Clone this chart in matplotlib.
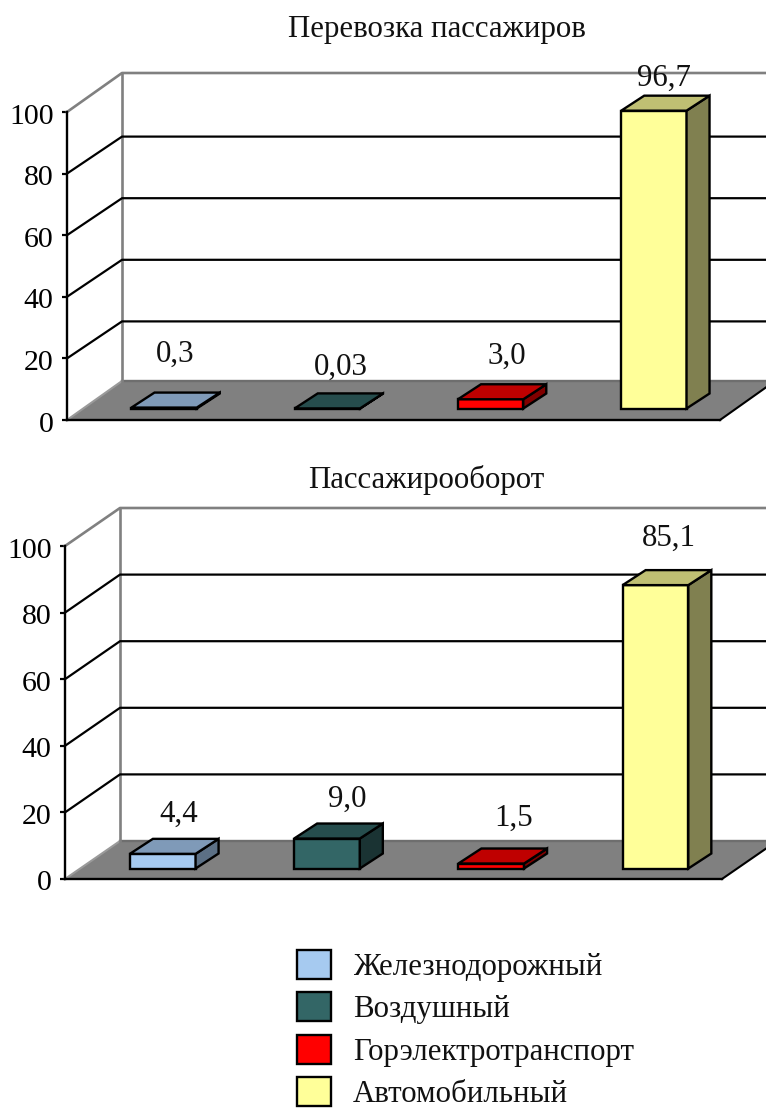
import matplotlib
matplotlib.use("Agg")
import matplotlib.pyplot as plt
from matplotlib.patches import Patch
from matplotlib.transforms import ScaledTranslation

W, H = 766, 1110
plt.rcParams['font.family'] = ['Liberation Serif', 'DejaVu Serif']

categories = ['Железнодорожный', 'Воздушный', 'Горэлектротранспорт', 'Автомобильный']
passengers = [0.3, 0.03, 3.0, 96.7]
passenger_km = [4.4, 9.0, 1.5, 85.1]
labels_passengers = ['0,3', '0,03', '3,0', '96,7']
labels_passenger_km = ['4,4', '9,0', '1,5', '85,1']
yticks = [0, 20, 40, 60, 80, 100]

front_colors = ['#A6CAF0', '#336666', '#FF0000', '#FFFF99']
legend_colors = ['#A6CAF0', '#336666', '#FF0000', '#FFFF99']
top_colors = ['#7F9AB8', '#264D4D', '#BF0000', '#BFBF73']
side_colors = ['#5C7085', '#1A3333', '#800000', '#808050']

FS = 22.2
TICK_FS = 21.5
EDGE = 1.7
fig = plt.figure(figsize=(W / 100, H / 100), dpi=100, facecolor='white')


def panel(title, title_xy, values, labels, left, right, y0, y100, floor_d, grid_dy, bar_d, bar_lift,
          label_gap, label_dx):
    ax = fig.add_axes([left / W, 1 - y0 / H, (right - left) / W, (y0 - y100) / H])
    ax.set_xlim(0, 4)
    ax.set_ylim(0, 100)
    ax.patch.set_visible(False)
    sx = (right - left) / 4
    sy = (y0 - y100) / 100
    fdx, fdy = floor_d[0] / sx, floor_d[1] / sy
    gdy = grid_dy / sy
    bdx, bdy = bar_d[0] / sx, bar_d[1] / sy
    lift = bar_lift / sy
    xr = (W - left) / sx  # right figure edge in data units

    # floor
    ax.fill([0, 4, 4 + fdx, xr + 1, 0 + fdx], [0, 0, fdy, fdy, fdy], color='#808080', zorder=1, clip_on=False, lw=0)
    ax.plot([4, 4 + fdx], [0, fdy], color='black', lw=1.5, zorder=2, clip_on=False)
    ax.plot([fdx, xr], [fdy, fdy], color='#6E6E6E', lw=1.7, zorder=2, clip_on=False)
    ax.plot([0, fdx], [0, fdy], color='#9A9A9A', lw=1.5, zorder=2, clip_on=False)

    # walls and grid
    ax.plot([fdx, fdx], [fdy, 100 + fdy], color='#808080', lw=1.9, zorder=2, clip_on=False)
    ax.plot([0, fdx, xr], [100, 100 + fdy, 100 + fdy], color='#808080', lw=1.9, zorder=2, clip_on=False)
    for v in yticks[1:-1]:
        ax.plot([0, fdx, xr], [v, v + gdy, v + gdy], color='black', lw=1.6, zorder=2, clip_on=False)

    # bars
    for i, v in enumerate(values):
        xc = i + 0.595
        w = 0.4
        xl, xh = xc - w / 2, xc + w / 2
        ax.bar(xc, v, width=w, bottom=lift, color=front_colors[i], edgecolor='black', linewidth=EDGE,
               zorder=4, clip_on=False)
        t = lift + v
        ax.fill([xh, xh + bdx, xh + bdx, xh], [lift, lift + bdy, t + bdy, t], facecolor=side_colors[i],
                edgecolor='black', lw=EDGE, zorder=4, clip_on=False)
        ax.fill([xl, xh, xh + bdx, xl + bdx], [t, t, t + bdy, t + bdy], facecolor=top_colors[i],
                edgecolor='black', lw=EDGE, zorder=5, clip_on=False)
        ax.annotate(labels[i], (xc + bdx / 2 - 1 / sx, t + bdy),
                    xytext=(label_dx[i] * 0.72, label_gap[i] * 0.72),
                    textcoords='offset points', ha='center', va='center', fontsize=FS, color='#111111',
                    zorder=6, annotation_clip=False)

    ax.set_yticks(yticks)
    ax.set_xticks([])
    ax.tick_params(axis='y', length=3.6, width=1.6, pad=6, labelsize=TICK_FS)
    shift = ScaledTranslation(0, -1.5 / 100, fig.dpi_scale_trans)
    for lab in ax.get_yticklabels():
        lab.set_transform(lab.get_transform() + shift)
    for s in ['top', 'right']:
        ax.spines[s].set_visible(False)
    for s in ['left', 'bottom']:
        ax.spines[s].set_linewidth(1.7)
        ax.spines[s].set_zorder(3)
    fig.text(title_xy[0] / W, 1 - title_xy[1] / H, title, ha='center', va='center', fontsize=FS, color='#111111')


panel('Перевозка пассажиров', (437, 30), passengers, labels_passengers,
      67, 720, 420, 112, (55, 39), 37, (23, 15), 11.5, [38, 26, 28, 17], [1, 3, 6, 0])
panel('Пассажирооборот', (426, 480), passenger_km, labels_passenger_km,
      65, 722, 879, 546, (55, 38), 38, (23, 15), 10.5, [25, 24, 30, 32], [6, 10, 12, 3])

handles = [Patch(facecolor=c, edgecolor='black', linewidth=1.7, label=n) for c, n in zip(legend_colors, categories)]
fig.legend(handles=handles, loc='upper left', bbox_to_anchor=(297 / W, 1 - 950 / H), frameon=False,
           fontsize=FS, handlelength=1.1, handleheight=1.07, handletextpad=0.72, labelspacing=0.34,
           borderpad=0, borderaxespad=0, labelcolor='#111111')

fig.savefig('out.png', dpi=100)
